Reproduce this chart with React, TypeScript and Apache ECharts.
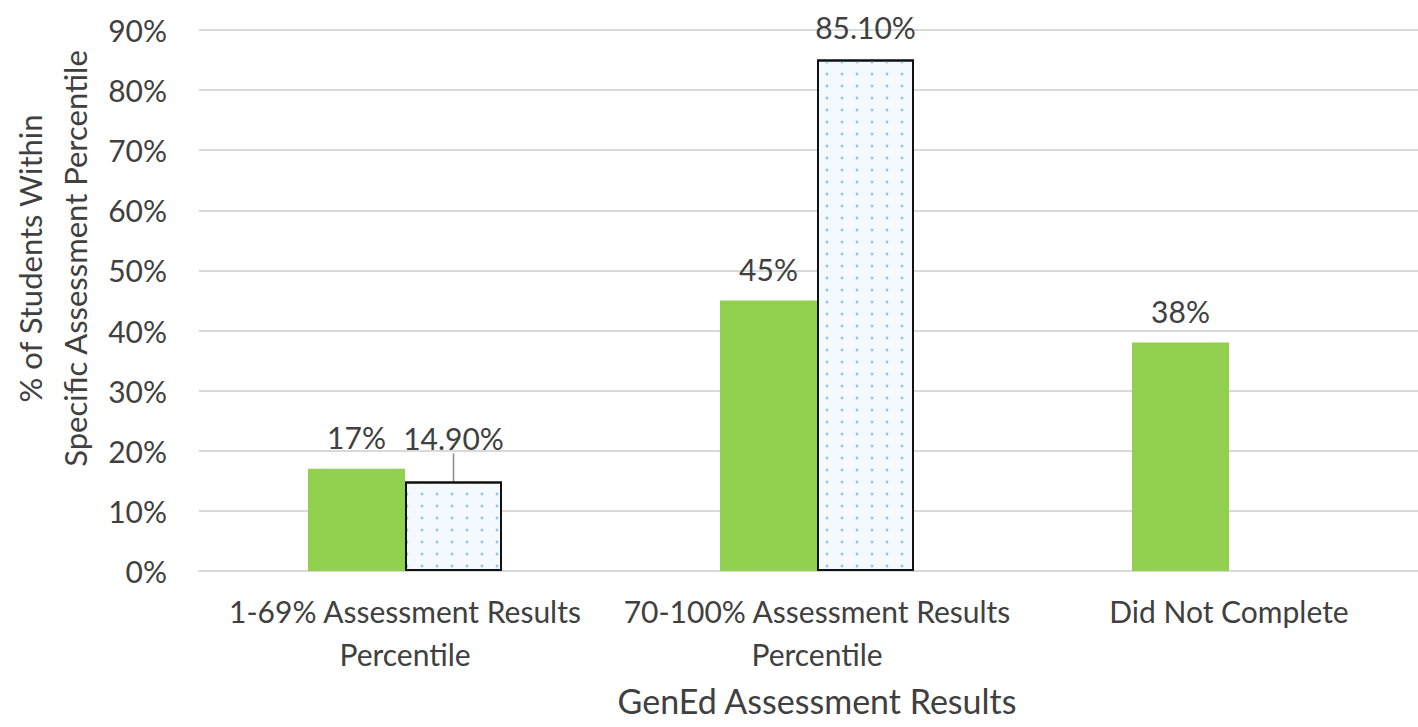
import React, { useEffect, useRef } from "react";
import * as echarts from "echarts";

const categories = [
  "1-69% Assessment Results\nPercentile",
  "70-100% Assessment Results\nPercentile",
  "Did Not Complete",
];
const greenValues = [17, 45, 38];
const patternValues: (number | null)[] = [14.9, 85.1, null];
const greenLabels = ["17%", "45%", "38%"];
const patternLabels = ["14.90%", "85.10%", ""];
const yTicks = [0, 10, 20, 30, 40, 50, 60, 70, 80, 90];

const FONT = "Lato";
const TXT = "#404040";
const FS = 30;

export default function App() {
  const ref = useRef<HTMLDivElement>(null);
  useEffect(() => {
    if (!ref.current) return;
    const chart = echarts.init(ref.current, null, { renderer: "svg" });
    chart.setOption({
      animation: false,
      textStyle: { fontFamily: FONT },
      grid: { left: 199, top: 30, width: 1236, bottom: 156, outerBoundsMode: "none", containLabel: false },
      xAxis: {
        type: "category",
        data: categories,
        axisTick: { show: false },
        axisLine: { lineStyle: { color: "#d9d9d9", width: 2 } },
        axisLabel: {
          color: TXT,
          fontSize: FS,
          fontFamily: FONT,
          lineHeight: 43,
          margin: 18,
          interval: 0,
        },
        name: "GenEd Assessment Results",
        nameLocation: "middle",
        nameGap: 112,
        nameTextStyle: { color: TXT, fontSize: 34, fontFamily: FONT },
      },
      yAxis: {
        type: "value",
        min: 0,
        max: 90,
        interval: 10,
        axisLabel: {
          color: TXT,
          fontSize: FS,
          fontFamily: FONT,
          margin: 32,
          formatter: (v: number) => (yTicks.includes(v) ? v + "%" : ""),
        },
        splitLine: { lineStyle: { color: "#d9d9d9", width: 2 } },
        name: "% of Students Within\nSpecific Assessment Percentile",
        nameLocation: "middle",
        nameRotate: 90,
        nameGap: 99,
        nameTextStyle: {
          color: TXT,
          fontSize: 31,
          fontFamily: FONT,
          lineHeight: 45,
          padding: [0, 0, 0, 84],
        },
      },
      series: [
        {
          type: "bar",
          data: greenValues,
          barWidth: 97,
          barGap: "0%",
          itemStyle: { color: "#92d050" },
          label: {
            show: true,
            position: "top",
            distance: 17,
            color: TXT,
            fontSize: FS,
            fontFamily: FONT,
            formatter: (p: any) => greenLabels[p.dataIndex],
          },
        },
        {
          type: "bar",
          data: patternValues.map((v, i) =>
            i === 0 ? { value: v, labelLine: { show: true } } : v
          ),
          barWidth: 97,
          barGap: "0%",
          itemStyle: {
            color: "#f3f9fd",
            borderColor: "#111111",
            borderWidth: 2,
            decal: {
              symbol: "circle",
              symbolSize: 0.7,
              color: "#93c3e4",
              dashArrayX: [4, 11],
              dashArrayY: [4, 8],
              rotation: 0,
            },
          },
          label: {
            show: true,
            position: "top",
            distance: 17,
            color: TXT,
            fontSize: FS,
            fontFamily: FONT,
            formatter: (p: any) => patternLabels[p.dataIndex],
          },
          labelLayout: (p: any) => (p.dataIndex === 0 ? { dy: -11 } : {}),
          labelLine: { show: false, lineStyle: { color: "#8c8c8c", width: 1.5 } },
        },
      ],
    });
    return () => chart.dispose();
  }, []);
  return (
    <div
      ref={ref}
      style={{ position: "fixed", left: 0, top: 0, width: 1418, height: 727, background: "#fff" }}
    />
  );
}
